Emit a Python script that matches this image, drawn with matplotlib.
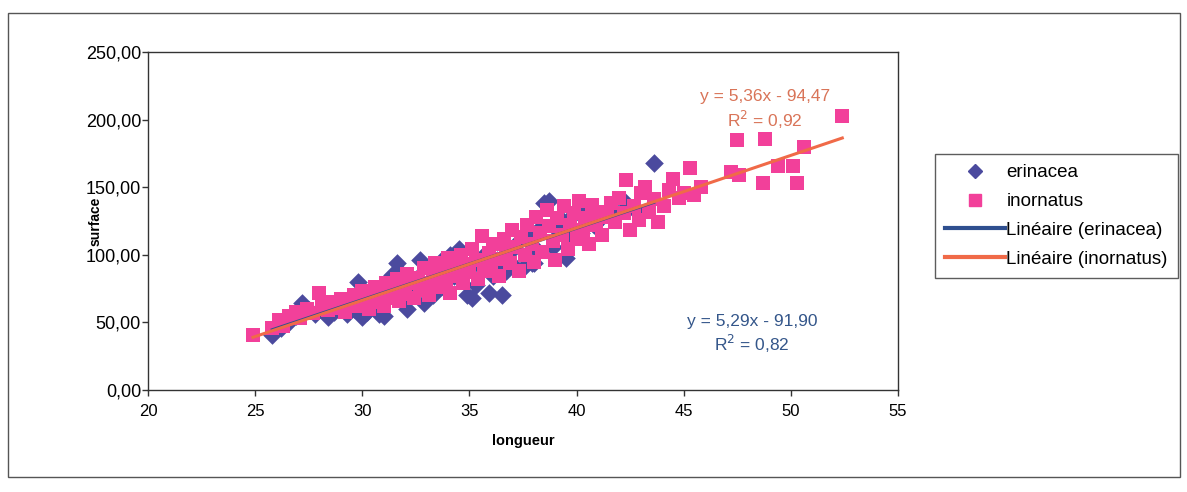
import matplotlib.pyplot as plt
import matplotlib.patches as patches
from matplotlib.lines import Line2D
from matplotlib.ticker import FuncFormatter, MultipleLocator

plt.rcParams["font.family"] = ["Liberation Sans", "DejaVu Sans"]

# erinacea measurements (longueur, surface)
erinacea_x = [25.8, 26.2, 26.6, 26.9, 27.2, 27.5, 27.8, 28.1, 28.4, 28.7,
              29.0, 29.3, 29.6, 29.8, 30.0, 30.2, 30.4, 30.6, 30.8, 31.0,
              31.2, 31.4, 31.6, 31.7, 31.9, 32.1, 32.3, 32.5, 32.7, 32.9,
              33.1, 33.3, 33.5, 33.7, 33.9, 34.1, 34.3, 34.5, 34.7, 34.9,
              35.1, 35.3, 35.5, 35.7, 35.9, 36.1, 36.3, 36.4, 36.5, 36.7,
              36.9, 37.1, 37.3, 37.5, 37.7, 37.9, 38.0, 38.1, 38.3, 38.5,
              38.7, 38.9, 39.1, 39.3, 39.5, 39.7, 39.9, 40.2, 40.5, 40.8,
              41.2, 41.7, 42.2, 42.8, 43.6]
erinacea_y = [41, 46, 50, 55, 64, 59, 56, 60, 54, 58,
              63, 56, 60, 80, 54, 58, 66, 72, 56, 55,
              76, 85, 94, 88, 66, 60, 72, 82, 96, 64,
              90, 70, 80, 96, 74, 100, 84, 104, 90, 70,
              68, 78, 92, 100, 72, 84, 96, 89, 70, 88,
              102, 92, 110, 90, 116, 94, 94, 104, 120, 138,
              140, 106, 118, 126, 98, 112, 130, 116, 134, 122,
              128, 134, 140, 132, 168]

# inornatus measurements (longueur, surface)
inornatus_x = [24.9, 25.8, 26.1, 26.3, 26.6, 26.9, 27.1, 27.4, 27.7, 28.0,
               28.1, 28.4, 28.6, 28.8, 29.0, 29.2, 29.4, 29.6, 29.8, 30.0,
               30.1, 30.3, 30.4, 30.6, 30.7, 30.9, 31.0, 31.1, 31.3, 31.4,
               31.6, 31.7, 31.9, 32.0, 32.1, 32.3, 32.4, 32.6, 32.7, 32.9,
               33.0, 33.1, 33.3, 33.4, 33.6, 33.7, 33.9, 34.0, 34.1, 34.3,
               34.4, 34.6, 34.7, 34.9, 35.0, 35.1, 35.3, 35.4, 35.6, 35.7,
               35.9, 36.0, 36.1, 36.3, 36.4, 36.6, 36.7, 36.9, 37.0, 37.1,
               37.3, 37.4, 37.6, 37.7, 37.9, 38.0, 38.1, 38.3, 38.4, 38.6,
               38.7, 38.9, 39.0, 39.1, 39.3, 39.4, 39.6, 39.7, 39.9, 40.0,
               40.1, 40.3, 40.4, 40.6, 40.7, 40.9, 41.0, 41.2, 41.4, 41.6,
               41.8, 42.0, 42.2, 42.3, 42.5, 42.7, 42.9, 43.0, 43.2, 43.4,
               43.6, 43.8, 44.1, 44.3, 44.5, 44.8, 45.0, 45.3, 45.5, 45.8,
               47.2, 47.5, 47.6, 48.7, 48.8, 49.4, 50.1, 50.3, 50.6, 52.4]
inornatus_y = [41, 46, 52, 47, 55, 58, 53, 60, 57, 72,
               62, 59, 65, 61, 67, 58, 64, 70, 62, 73,
               66, 60, 70, 76, 65, 72, 62, 79, 68, 74,
               82, 66, 76, 71, 86, 79, 68, 83, 74, 90,
               79, 70, 86, 94, 76, 88, 81, 98, 72, 90,
               84, 100, 79, 93, 87, 104, 96, 82, 114, 92,
               101, 88, 108, 97, 84, 112, 102, 94, 118, 106,
               88, 113, 100, 122, 108, 95, 128, 116, 102, 133,
               121, 110, 96, 127, 115, 136, 104, 122, 131, 112,
               140, 118, 127, 108, 137, 122, 132, 115, 128, 138,
               124, 142, 131, 155, 118, 136, 126, 146, 150, 132,
               141, 124, 136, 148, 156, 142, 146, 164, 144, 150,
               161, 185, 159, 153, 186, 166, 166, 153, 180, 203]

# linear trendlines as reported on the chart
erinacea_slope, erinacea_intercept = 5.29, -91.90
inornatus_slope, inornatus_intercept = 5.36, -94.47
erinacea_r2 = 0.82
inornatus_r2 = 0.92

blue_marker = "#4b4a9e"
pink_marker = "#f2409a"
blue_line = "#2f4f8f"
orange_line = "#f06a48"

fig = plt.figure(figsize=(11.87, 4.92), dpi=100)

# outer chart border
fig.patches.append(patches.Rectangle((8 / 1187, 1 - 477 / 492), 1172 / 1187, 464 / 492,
                                     transform=fig.transFigure, fill=False,
                                     edgecolor="#555555", linewidth=1.0))

ax = fig.add_axes([148 / 1187, 1 - 390 / 492, 750 / 1187, 338 / 492])

ax.scatter(erinacea_x, erinacea_y, marker="D", s=90, color=blue_marker, linewidths=0, zorder=2)
ax.scatter(inornatus_x, inornatus_y, marker="s", s=95, color=pink_marker, linewidths=0, zorder=3)

# trendlines over each series' range
ex = [min(erinacea_x), max(erinacea_x)]
ax.plot(ex, [erinacea_slope * v + erinacea_intercept for v in ex], color=blue_line, lw=2.2, zorder=4)
ix = [min(inornatus_x), max(inornatus_x)]
ax.plot(ix, [inornatus_slope * v + inornatus_intercept for v in ix], color=orange_line, lw=2.2, zorder=5)

def comma(v, d):
    return f"{v:.{d}f}".replace(".", ",")

ax.text(48.8, 207, f"y = {comma(inornatus_slope, 2)}x - {comma(-inornatus_intercept, 2)}\n"
        f"R$^2$ = {comma(inornatus_r2, 2)}", color="#d97458", fontsize=12.5,
        ha="center", va="center", linespacing=1.25, zorder=6)
ax.text(48.2, 41, f"y = {comma(erinacea_slope, 2)}x - {comma(-erinacea_intercept, 2)}\n"
        f"R$^2$ = {comma(erinacea_r2, 2)}", color="#34568a", fontsize=12.5,
        ha="center", va="center", linespacing=1.25, zorder=6)

ax.set_xlim(20, 55)
ax.set_ylim(0, 250)
ax.xaxis.set_major_locator(MultipleLocator(5))
ax.yaxis.set_major_locator(MultipleLocator(50))
ax.yaxis.set_major_formatter(FuncFormatter(lambda v, p: comma(v, 2)))
ax.tick_params(direction="out", length=4, width=1, color="#333333")
ax.tick_params(axis="y", labelsize=13, pad=1)
ax.tick_params(axis="x", labelsize=12, pad=6)
for s in ax.spines.values():
    s.set_color("#333333")
    s.set_linewidth(1.0)

ax.set_xlabel("longueur", fontsize=10.5, fontweight="bold")
ax.set_ylabel("surface", fontsize=10, fontweight="bold")
ax.xaxis.set_label_coords(0.5, -0.13)
ax.yaxis.set_label_coords(-0.06, 0.5)

handles = [
    Line2D([], [], marker="D", linestyle="none", color=blue_marker, markersize=7),
    Line2D([], [], marker="s", linestyle="none", color=pink_marker, markersize=8),
    Line2D([], [], color=blue_line, lw=3),
    Line2D([], [], color=orange_line, lw=3),
]
labels = ["erinacea", "inornatus", "Linéaire (erinacea)", "Linéaire (inornatus)"]
leg = fig.legend(handles, labels, loc="upper left", bbox_to_anchor=(935 / 1187, 1 - 154 / 492),
                 frameon=True, fancybox=False, edgecolor="#333333", fontsize=13.5,
                 handlelength=3.2, handletextpad=0.05, borderpad=0.55, labelspacing=0.62,
                 borderaxespad=0)
leg.get_frame().set_linewidth(1.0)

fig.savefig("out.png", dpi=100)
